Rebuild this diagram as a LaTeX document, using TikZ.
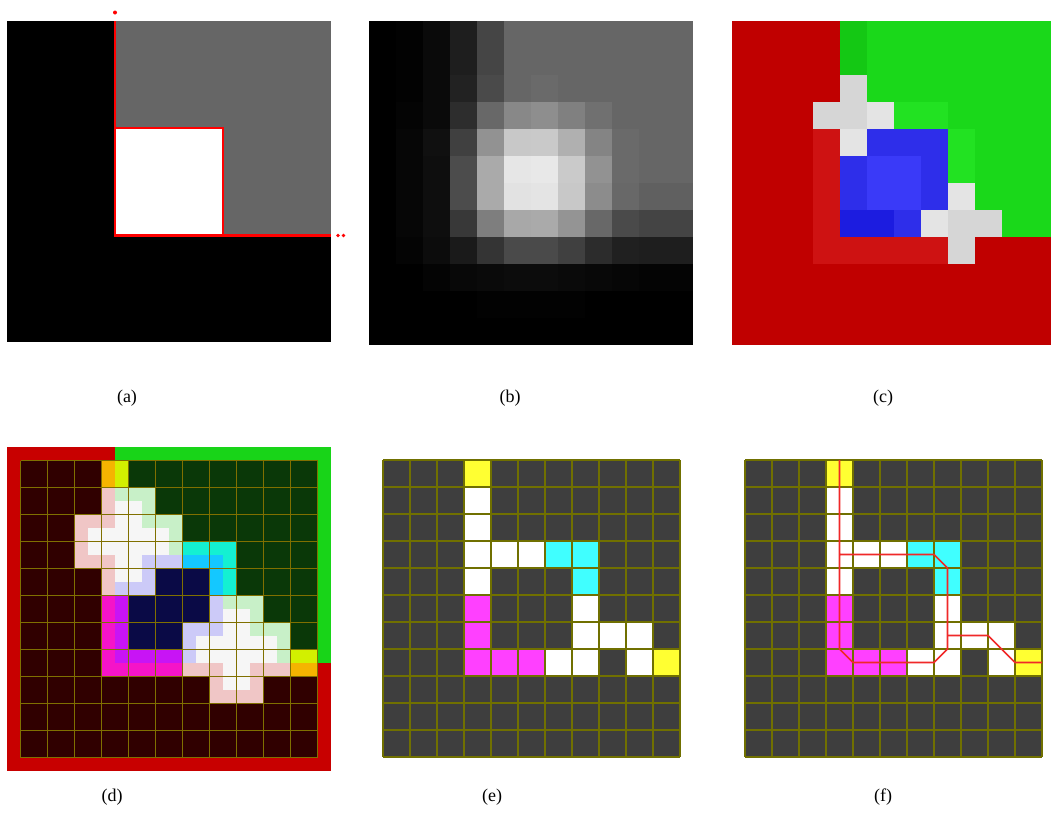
\documentclass[tikz,border=0pt]{standalone}
\usepackage{fontspec}
\setmainfont{Liberation Serif}
\definecolor{pcR}{RGB}{192,0,0}
\definecolor{pcr}{RGB}{206,18,18}
\definecolor{pcH}{RGB}{20,200,20}
\definecolor{pcG}{RGB}{26,216,26}
\definecolor{pcg}{RGB}{34,226,34}
\definecolor{pcB}{RGB}{46,46,234}
\definecolor{pcb}{RGB}{58,58,248}
\definecolor{pcd}{RGB}{28,28,224}
\definecolor{pcW}{RGB}{214,214,214}
\definecolor{pcw}{RGB}{228,228,228}
% panel d colours: q<mode><class>
\definecolor{q00}{RGB}{240,198,198}
\definecolor{q01}{RGB}{200,240,200}
\definecolor{q02}{RGB}{204,202,248}
\definecolor{q03}{RGB}{246,246,246}
\definecolor{q10}{RGB}{48,0,0}
\definecolor{q11}{RGB}{10,56,8}
\definecolor{q12}{RGB}{10,10,70}
\definecolor{q13}{RGB}{246,246,246}
\definecolor{q20}{RGB}{245,180,0}
\definecolor{q21}{RGB}{210,240,0}
\definecolor{q22}{RGB}{10,10,70}
\definecolor{q23}{RGB}{246,246,246}
\definecolor{q30}{RGB}{245,20,200}
\definecolor{q31}{RGB}{210,240,0}
\definecolor{q32}{RGB}{200,20,245}
\definecolor{q33}{RGB}{246,246,246}
\definecolor{q40}{RGB}{245,20,200}
\definecolor{q41}{RGB}{20,240,210}
\definecolor{q42}{RGB}{20,200,255}
\definecolor{q43}{RGB}{246,246,246}
\definecolor{bordR}{RGB}{200,0,0}
\definecolor{bordG}{RGB}{24,212,24}
\definecolor{olived}{RGB}{128,112,0}
\definecolor{olivee}{RGB}{112,112,0}
\definecolor{darkcell}{RGB}{62,62,62}
\definecolor{cy}{RGB}{255,255,50}
\definecolor{cw}{RGB}{255,255,255}
\definecolor{cc}{RGB}{64,255,255}
\definecolor{cm}{RGB}{255,64,255}
\definecolor{pathred}{RGB}{240,40,40}
\definecolor{gray66}{RGB}{102,102,102}
\tikzset{
  redline/.style={draw=red,line width=2.5pt},
  gridd/.style={draw=olived,line width=1.1pt},
  gride/.style={draw=olivee,line width=1.1pt},
  routeline/.style={draw=pathred,line width=1.6pt,line join=round},
  lab/.style={font=\fontsize{18}{21}\selectfont,inner sep=0pt}
}
\begin{document}
\begin{tikzpicture}[x=1pt,y=-1pt]
\useasboundingbox[fill=white] (0,0) rectangle (1051,838);
% ---------------- (a)
\fill[black] (7,21) rectangle (331,342);
\fill[gray66] (115,21) rectangle (331,235);
\fill[white] (115,128) rectangle (223,235);
\draw[redline] (115,21) -- (115,235.5) -- (331,235.5);
\draw[redline] (115,128) rectangle (223,235.5);
\fill[red] (115,12.5) circle (2);
\fill[red] (338,235.5) circle (1.8);
\fill[red] (343.5,235.5) circle (1.8);
% ---------------- (b)
\foreach \row [count=\j from 0] in {
 {0,2,10,30,69,102,102,102,102,102,102,102},
 {0,2,10,30,69,102,102,102,102,102,102,102},
 {0,2,10,34,74,102,106,102,102,102,102,102},
 {0,4,10,45,104,136,142,128,112,102,102,102},
 {0,6,16,64,146,200,201,176,132,106,102,102},
 {0,6,14,76,170,230,232,202,146,106,102,102},
 {0,6,14,76,170,226,228,200,140,104,96,96},
 {0,6,14,56,126,168,170,148,104,74,68,68},
 {0,4,12,26,52,74,74,64,44,32,30,30},
 {0,0,4,8,10,12,12,10,8,6,4,4},
 {0,0,0,0,2,2,2,2,0,0,0,0},
 {0,0,0,0,0,0,0,0,0,0,0,0}}{
  \foreach \v [count=\i from 0] in \row {
    \fill[fill={rgb,255:red,\v;green,\v;blue,\v}] (369+27*\i,21+27*\j) rectangle ++(27.4,27.4);
  }
}
% ---------------- (c)
\begin{scope}
\clip (700,0) rectangle (1051,400);
\foreach \row [count=\j from 0] in {
 {R,R,R,R,H,G,G,G,G,G,G,G},
 {R,R,R,R,H,G,G,G,G,G,G,G},
 {R,R,R,R,W,G,G,G,G,G,G,G},
 {R,R,R,W,W,w,g,g,G,G,G,G},
 {R,R,R,r,w,B,B,B,g,G,G,G},
 {R,R,R,r,B,b,b,B,g,G,G,G},
 {R,R,R,r,B,b,b,B,w,G,G,G},
 {R,R,R,r,d,d,B,w,W,W,G,G},
 {R,R,R,r,r,r,r,r,W,R,R,R},
 {R,R,R,R,R,R,R,R,R,R,R,R},
 {R,R,R,R,R,R,R,R,R,R,R,R},
 {R,R,R,R,R,R,R,R,R,R,R,R}}{
  \foreach \c [count=\i from 0] in \row {
    \fill[fill=pc\c] (732+27*\i,21+27*\j) rectangle ++(27.4,27.4);
  }
}
\end{scope}
% ---------------- (d)
\fill[bordR] (7,447) rectangle (331,771);
\fill[bordG] (115,447) rectangle (331,663);
\def\pix{{0,0,0,0,1,1,1,1,1,1,1,1,
 0,0,0,0,1,1,1,1,1,1,1,1,
 0,0,0,0,3,1,1,1,1,1,1,1,
 0,0,0,3,3,3,1,1,1,1,1,1,
 0,0,0,0,3,2,2,2,1,1,1,1,
 0,0,0,0,2,2,2,2,1,1,1,1,
 0,0,0,0,2,2,2,2,3,1,1,1,
 0,0,0,0,2,2,2,3,3,3,1,1,
 0,0,0,0,0,0,0,0,3,0,0,0,
 0,0,0,0,0,0,0,0,0,0,0,0,
 0,0,0,0,0,0,0,0,0,0,0,0,
 0,0,0,0,0,0,0,0,0,0,0,0}}
\foreach \j in {0,...,10}{
  \foreach \i in {0,...,10}{
    \pgfmathtruncatemacro\pxA{\pix[12*\j+\i]}
    \pgfmathtruncatemacro\pxB{\pix[12*\j+\i+1]}
    \pgfmathtruncatemacro\pxC{\pix[12*\j+\i+12]}
    \pgfmathtruncatemacro\pxD{\pix[12*\j+\i+13]}
    \pgfmathtruncatemacro\hW{max(\pxA==3,\pxB==3,\pxC==3,\pxD==3)}
    \pgfmathtruncatemacro\hR{max(\pxA==0,\pxB==0,\pxC==0,\pxD==0)}
    \pgfmathtruncatemacro\hG{max(\pxA==1,\pxB==1,\pxC==1,\pxD==1)}
    \pgfmathtruncatemacro\hB{max(\pxA==2,\pxB==2,\pxC==2,\pxD==2)}
    \pgfmathtruncatemacro\md{\hW==1 ? 0 : ((\hR+\hG+\hB)==1 ? 1 : ((\hR+\hG)==2 ? 2 : ((\hR+\hB)==2 ? 3 : 4)))}
    \fill[fill=q\md\pxA] (20.5+27*\i,460.5+27*\j) rectangle ++(13.8,13.8);
    \fill[fill=q\md\pxB] (34+27*\i,460.5+27*\j) rectangle ++(13.6,13.8);
    \fill[fill=q\md\pxC] (20.5+27*\i,474+27*\j) rectangle ++(13.8,13.6);
    \fill[fill=q\md\pxD] (34+27*\i,474+27*\j) rectangle ++(13.6,13.6);
  }
}
\foreach \k in {0,...,11}{
  \draw[gridd] (20.5+27*\k,460.5) -- (20.5+27*\k,757.5);
  \draw[gridd] (20.5,460.5+27*\k) -- (317.5,460.5+27*\k);
}
% ---------------- (e) and (f)
\foreach \ox in {383,745}{
  \fill[darkcell] (\ox,460) rectangle ++(297,297);
  \foreach \i/\j/\cl in {3/0/cy,10/7/cy,
     3/1/cw,3/2/cw,3/3/cw,4/3/cw,5/3/cw,3/4/cw,7/5/cw,7/6/cw,8/6/cw,9/6/cw,6/7/cw,7/7/cw,9/7/cw,
     6/3/cc,7/3/cc,7/4/cc,
     3/5/cm,3/6/cm,3/7/cm,4/7/cm,5/7/cm}{
    \fill[fill=\cl] (\ox+27*\i,460+27*\j) rectangle ++(27,27);
  }
  \foreach \k in {0,...,11}{
    \draw[gride] (\ox+27*\k,460) -- (\ox+27*\k,757);
    \draw[gride] (\ox,460+27*\k) -- (\ox+297,460+27*\k);
  }
}
% route in (f)
\begin{scope}[shift={(745,460)},x=27pt,y=-27pt]
  \coordinate (p0) at (3.5,0);
  \coordinate (p1) at (3.5,7.0);
  \coordinate (p2) at (4.0,7.5);
  \coordinate (p3) at (7.0,7.5);
  \coordinate (p4) at (7.5,7.0);
  \coordinate (p5) at (7.5,4.0);
  \coordinate (p6) at (7.0,3.5);
  \coordinate (p7) at (3.5,3.5);
  \coordinate (s0) at (7.5,6.5);
  \coordinate (s1) at (9.0,6.5);
  \coordinate (s2) at (10.0,7.5);
  \coordinate (s3) at (11.0,7.5);
  \draw[routeline] (p0) -- (p1) -- (p2) -- (p3) -- (p4) -- (p5) -- (p6) -- (p7);
  \draw[routeline] (s0) -- (s1) -- (s2) -- (s3);
\end{scope}
% ---------------- labels
\node[lab] (la) at (127,398) {(a)};
\node[lab] (lb) at (510,398) {(b)};
\node[lab] (lc) at (883,398) {(c)};
\node[lab] (ld) at (112,797) {(d)};
\node[lab] (le) at (492,797) {(e)};
\node[lab] (lf) at (883,797) {(f)};
\end{tikzpicture}
\end{document}
